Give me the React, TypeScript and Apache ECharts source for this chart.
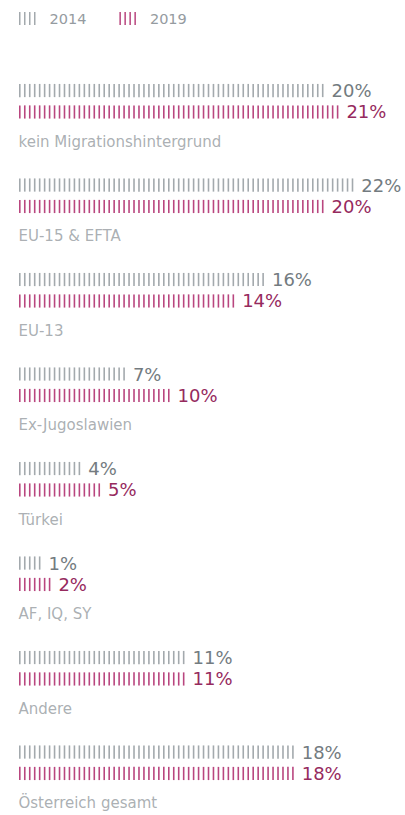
import React, { useEffect, useRef } from "react";
import * as echarts from "echarts";

const categories = [
  "kein Migrationshintergrund",
  "EU-15 & EFTA",
  "EU-13",
  "Ex-Jugoslawien",
  "Türkei",
  "AF, IQ, SY",
  "Andere",
  "Österreich gesamt",
];
const values2014 = [20, 22, 16, 7.0, 3.8, 1.3, 11, 18];
const values2019 = [21, 20, 14, 10.0, 5.1, 2.0, 11, 18];
const seriesNames = ["2014", "2019"];

const GREY = "#a3a9ad";
const PINK = "#b9467f";
const GREY_TEXT = "#737b80";
const PINK_TEXT = "#962a5e";
const LABEL_TEXT = "#959ba0";
const FONT = "'DejaVu Sans', sans-serif";

const ICON =
  "path://M0 0h1.5v13h-1.5z M5 0h1.5v13h-1.5z M10 0h1.5v13h-1.5z M15 0h1.5v13h-1.5z";

export default function App() {
  const ref = useRef<HTMLDivElement>(null);
  useEffect(() => {
    if (!ref.current) return;
    const chart = echarts.init(ref.current, null, { renderer: "svg" });
    const barSeries = (name: string, data: number[], color: string, textColor: string) => ({
      type: "pictorialBar",
      name,
      data,
      symbol: "rect",
      symbolSize: [1.6, 13],
      symbolMargin: 1.7,
      symbolRepeat: true,
      barWidth: 13,
      barGap: "65%",
      itemStyle: { color },
      label: {
        show: true,
        position: "right",
        distance: 8,
        color: textColor,
        fontSize: 18,
        fontFamily: FONT,
        lineHeight: 19,
        formatter: (p: any) => Math.round(p.value) + "%",
      },
      z: 2,
    });
    chart.setOption({
      animation: false,
      legend: {
        left: 19,
        top: 11,
        padding: 0,
        itemWidth: 16.5,
        itemHeight: 13,
        itemGap: 33,
        icon: ICON,
        data: seriesNames,
        textStyle: {
          color: LABEL_TEXT,
          fontSize: 14.5,
          fontFamily: FONT,
          padding: [0, 0, 0, 9],
        },
      },
      grid: { left: 19, right: 7, top: 54, bottom: 5 },
      xAxis: {
        type: "value",
        min: 0,
        max: 25.2,
        show: false,
      },
      yAxis: {
        type: "category",
        data: categories,
        inverse: true,
        show: false,
      },
      series: [
        barSeries(seriesNames[0], values2014, GREY, GREY_TEXT),
        barSeries(seriesNames[1], values2019, PINK, PINK_TEXT),
        {
          type: "scatter",
          name: "labels",
          data: categories.map((c) => [0, c]),
          symbolSize: 1,
          itemStyle: { color: "transparent" },
          silent: true,
          label: {
            show: true,
            position: [0, 41],
            align: "left",
            verticalAlign: "middle",
            color: LABEL_TEXT,
            fontSize: 15,
            fontFamily: FONT,
            formatter: (p: any) => p.value[1],
          },
        },
      ],
    });
    return () => chart.dispose();
  }, []);
  return (
    <div
      ref={ref}
      style={{ position: "absolute", left: 0, top: 0, width: 405, height: 815 }}
    />
  );
}
